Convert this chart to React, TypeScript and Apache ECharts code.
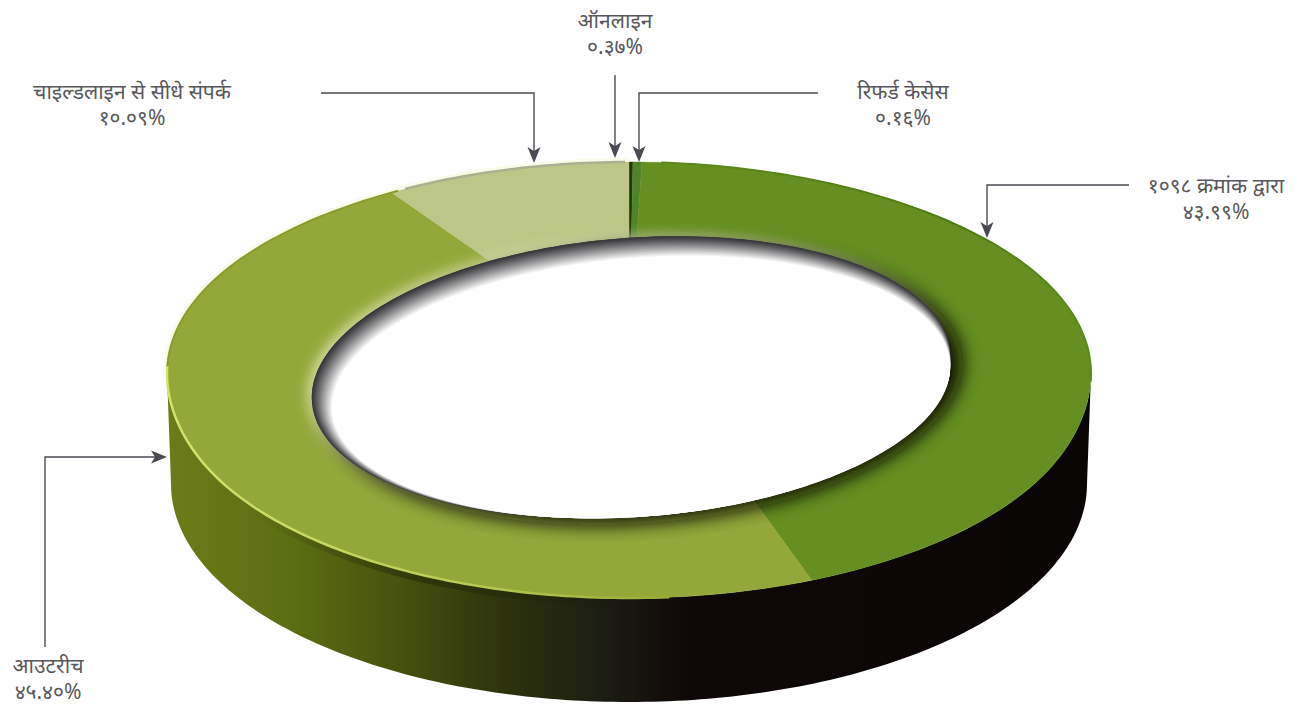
import React, { useEffect, useRef } from "react";
import * as echarts from "echarts";

const categories = ["रिफर्ड केसेस", "ऑनलाइन", "१०९८ क्रमांक द्वारा", "आउटरीच", "चाइल्डलाइन से सीधे संपर्क"];
const shares = [0.16, 0.37, 43.99, 45.4, 10.09];
const shareLabels = ["०.१६%", "०.३७%", "४३.९९%", "४५.४०%", "१०.०९%"];
const sliceColors = ["#1c3a08", "#4f8428", "#658f20", "#94a83a", "#bcc787"];

const labelCentres: [number, number][] = [[903, 91], [615, 20], [1216, 185], [48, 665], [132, 91]];
const leaders: number[][][] = [
  [[818, 93], [639, 93], [639, 150]],
  [[615, 75], [615, 146]],
  [[1129, 185], [987, 185], [987, 226]],
  [[45, 647], [45, 457], [155, 457]],
  [[321, 93], [534, 93], [534, 151]],
];
const arrowTips: [number, number, string][] = [[639, 162, "d"], [615, 158, "d"], [987, 238, "d"], [167, 457, "r"], [534, 163, "d"]];

const FONT = "'Noto Sans', 'Noto Sans Devanagari', 'Lohit Devanagari', 'DejaVu Sans', sans-serif";
const TEXT = "#58585c";
const LINE = "#4a4a52";
const rad = Math.PI / 180;

const ell = (cx: number, cy: number, rx: number, ry: number, t: number) => [
  cx + rx * Math.sin(t * rad),
  cy - ry * Math.cos(t * rad),
];
const warp = (t: number, a: number, b: number) => t + a * Math.sin(t * rad) + b * Math.sin(2 * t * rad);
const outerWarp = (t: number) => warp(t, -9.76, 0.4);
const innerWarp = (t: number) => warp(t, -14.26, -1.84);

const OUT = { cx: 629, cy: 380, rx: 462, ry: 218 };
const LOW = { cx: 629, cy: 484, rx: 458, ry: 218 };

// Rim of the top face: an ellipse with slightly fuller upper shoulders.
const rim = (t: number, grow = 0) => {
  const [x, y] = ell(OUT.cx, OUT.cy, OUT.rx + grow, OUT.ry + grow, t);
  const s = Math.abs(Math.sin(t * rad));
  const pow = Math.cos(t * rad) > 0 ? 4 : 16;
  return [x, y - 6 * Math.pow(s, pow)];
};

const rimArc = (a: number, b: number, grow = 0) => {
  const pts: number[][] = [];
  const n = Math.ceil(Math.abs(b - a));
  for (let i = 0; i <= n; i++) pts.push(rim(a + ((b - a) * i) / n, grow));
  return pts;
};

const lowArc = (a: number, b: number) => {
  const pts: number[][] = [];
  const n = Math.ceil(Math.abs(b - a));
  for (let i = 0; i <= n; i++) pts.push(ell(LOW.cx, LOW.cy, LOW.rx, LOW.ry, a + ((b - a) * i) / n));
  return pts;
};

const tilted = (cx: number, cy: number, a: number, b: number, deg: number) => {
  const pts: number[][] = [];
  const c = Math.cos(deg * rad);
  const s = Math.sin(deg * rad);
  for (let i = 0; i < 240; i++) {
    const u = (i / 240) * 2 * Math.PI;
    const x = a * Math.cos(u);
    const y = b * Math.sin(u);
    pts.push([cx + x * c - y * s, cy + x * s + y * c]);
  }
  return pts;
};

const mix = (k: number) => {
  const e = Math.pow(k, 1.1);
  const from = [56, 56, 60];
  const v = from.map((f) => Math.round(f + (255 - f) * e));
  return `rgb(${v[0]},${v[1]},${v[2]})`;
};

function renderWall() {
  return {
    type: "group",
    children: [
      {
        type: "polyline",
        shape: { points: rimArc(270, 360, 2.5) },
        style: { fill: "none", stroke: "#fbfbea", lineWidth: 3 },
      },
      {
        type: "polygon",
        shape: { points: [...rimArc(90, 270), ...lowArc(270, 90)] },
        style: {
          fill: new echarts.graphic.LinearGradient(0, 0, 1, 0, [
            { offset: 0, color: "#6c7c17" },
            { offset: 0.14, color: "#5c6c13" },
            { offset: 0.25, color: "#46520e" },
            { offset: 0.36, color: "#2f340d" },
            { offset: 0.47, color: "#1c1d12" },
            { offset: 0.56, color: "#0f0808" },
            { offset: 1, color: "#0a0505" },
          ]),
        },
      },
      {
        type: "polyline",
        shape: { points: rimArc(180, 235).map(([x, y]) => [x, y + 4]) },
        style: {
          fill: "none",
          lineWidth: 7,
          stroke: new echarts.graphic.LinearGradient(0, 0, 1, 0, [
            { offset: 0, color: "rgba(20,24,0,0)" },
            { offset: 0.45, color: "rgba(20,24,0,0.4)" },
            { offset: 1, color: "rgba(20,24,0,0)" },
          ]),
        },
      },
    ],
  };
}

function renderSlice(params: any, api: any) {
  const start = api.value(0);
  const end = api.value(1);
  const i = params.dataIndex;
  const total = shares.reduce((s, v) => s + v, 0);
  const a = (start / total) * 360;
  const b = (end / total) * 360;
  const n = Math.max(2, Math.ceil(b - a));
  const outer: number[][] = [];
  const inner: number[][] = [];
  for (let k = 0; k <= n; k++) {
    const t = a + ((b - a) * k) / n;
    outer.push(rim(outerWarp(t)));
    inner.push(ell(629, 378, 300, 125, innerWarp(t)));
  }
  return {
    type: "polygon",
    shape: { points: [...outer, ...inner.reverse()] },
    style: { fill: sliceColors[i], stroke: sliceColors[i], lineWidth: 0.4 },
  };
}

function renderHole() {
  const children: any[] = [];
  children.push({
    type: "polyline",
    shape: { points: rimArc(272, 175) },
    style: {
      fill: "none",
      lineWidth: 2.5,
      stroke: new echarts.graphic.LinearGradient(0, 0, 1, 0, [
        { offset: 0, color: "#d2e46c" },
        { offset: 0.6, color: "#b8cc52" },
        { offset: 1, color: "#97ab3a" },
      ]),
    },
  });
  children.push({
    type: "polyline",
    shape: { points: rimArc(4, 92) },
    style: {
      fill: "none",
      lineWidth: 2,
      stroke: new echarts.graphic.LinearGradient(0, 0, 1, 0, [
        { offset: 0, color: "#5d8a1c" },
        { offset: 0.7, color: "#4c7a14" },
        { offset: 1, color: "#5a8a1c" },
      ]),
    },
  });
  children.push({
    type: "polyline",
    shape: { points: rimArc(331, 359.5) },
    style: { fill: "none", stroke: "#aab092", lineWidth: 2.5 },
  });
  children.push({
    type: "polyline",
    shape: { points: rimArc(272, 330) },
    style: { fill: "none", stroke: "#8a9c2e", lineWidth: 2 },
  });
  children.push({
    type: "polygon",
    shape: { points: tilted(631, 377, 320, 139, -4.5) },
    style: {
      fill: "#c8d48a",
      shadowColor: "rgba(228,236,180,0.9)",
      shadowBlur: 12,
      shadowOffsetX: -4,
      shadowOffsetY: -2,
    },
  });
  children.push({
    type: "polygon",
    shape: { points: tilted(631, 377, 320, 139, -4.5) },
    style: {
      fill: "#38383c",
      shadowColor: "rgba(10,14,0,0.98)",
      shadowBlur: 18,
      shadowOffsetX: 12,
      shadowOffsetY: 7,
    },
  });
  const N = 18;
  for (let k = 0; k <= N; k++) {
    const f = k / N;
    children.push({
      type: "polygon",
      shape: { points: tilted(631 + 10 * f, 377 + 10 * f, 320 - 10 * f, 139 - 9.5 * f, -4.5) },
      style: { fill: mix(f) },
    });
  }
  return { type: "group", children };
}

function buildGraphic() {
  const items: any[] = [];
  categories.forEach((name, i) => {
    const [x, y] = labelCentres[i];
    items.push({
      type: "text", x, y,
      style: { text: name, fill: TEXT, font: `21px ${FONT}`, textAlign: "center", textVerticalAlign: "middle" },
    });
    items.push({
      type: "text", x, y: y + 26,
      style: { text: shareLabels[i], fill: TEXT, font: `21px ${FONT}`, textAlign: "center", textVerticalAlign: "middle" },
    });
    items.push({
      type: "polyline",
      shape: { points: leaders[i] },
      style: { fill: "none", stroke: LINE, lineWidth: 1.4 },
    });
    const [tx, ty, dir] = arrowTips[i];
    const pts = dir === "d"
      ? [[tx, ty], [tx - 6.5, ty - 16], [tx, ty - 12], [tx + 6.5, ty - 16]]
      : [[tx, ty], [tx - 16, ty - 6.5], [tx - 12, ty], [tx - 16, ty + 6.5]];
    items.push({ type: "polygon", shape: { points: pts }, style: { fill: LINE } });
  });
  return items;
}

export default function App() {
  const ref = useRef<HTMLDivElement>(null);
  useEffect(() => {
    if (!ref.current) return;
    const chart = echarts.init(ref.current, undefined, { renderer: "svg" });
    let run = 0;
    const spans = shares.map((v) => {
      const s = [run, run + v];
      run += v;
      return s;
    });
    chart.setOption({
      animation: false,
      backgroundColor: "#ffffff",
      series: [
        { type: "custom", coordinateSystem: "none", silent: true, z: 1, renderItem: renderWall, data: [[0]] },
        { type: "custom", coordinateSystem: "none", silent: true, z: 2, renderItem: renderSlice, data: spans },
        { type: "custom", coordinateSystem: "none", silent: true, z: 3, renderItem: renderHole, data: [[0]] },
      ],
      graphic: buildGraphic(),
    });
    return () => chart.dispose();
  }, []);
  return <div ref={ref} style={{ position: "fixed", left: 0, top: 0, width: 1301, height: 705 }} />;
}
